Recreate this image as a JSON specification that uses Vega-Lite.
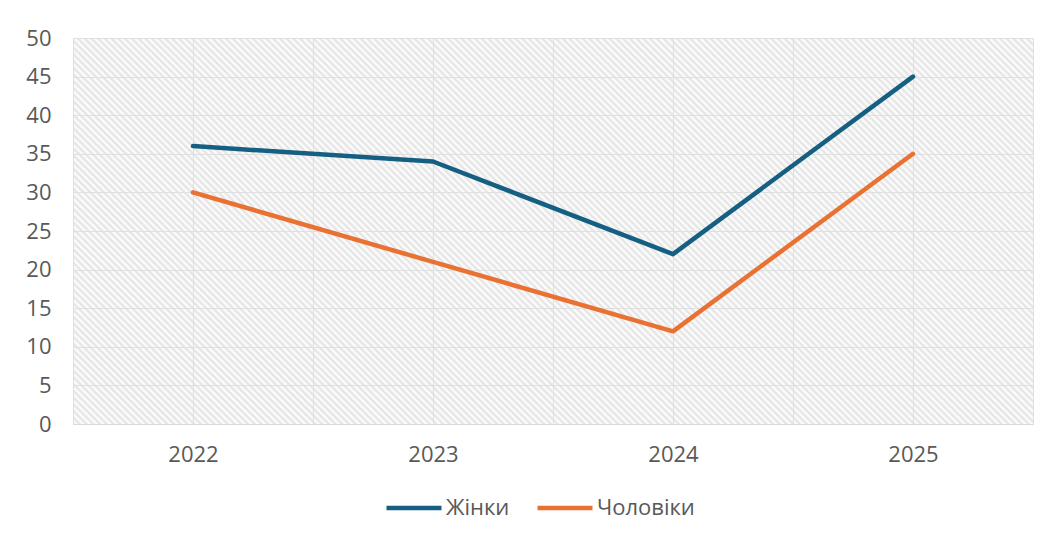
{
  "$schema": "https://vega.github.io/schema/vega-lite/v6.json",
  "width": 960,
  "height": 386,
  "autosize": {"type": "none"},
  "padding": {"left": 73, "top": 38, "right": 31, "bottom": 116},
  "background": "#ffffff",
  "view": {
    "stroke": null,
    "fill": {
      "gradient": "linear", "x1": 0, "y1": 1, "x2": 1.207, "y2": 0.5147,
      "stops": [
        {"offset":0,"color":"#e2e2e2"},{"offset":0.0025,"color":"#fff"},{"offset":0.005,"color":"#e2e2e2"},{"offset":0.0075,"color":"#fff"},
        {"offset":0.01,"color":"#e2e2e2"},{"offset":0.0125,"color":"#fff"},{"offset":0.015,"color":"#e2e2e2"},{"offset":0.0175,"color":"#fff"},
        {"offset":0.02,"color":"#e2e2e2"},{"offset":0.0225,"color":"#fff"},{"offset":0.025,"color":"#e2e2e2"},{"offset":0.0275,"color":"#fff"},
        {"offset":0.03,"color":"#e2e2e2"},{"offset":0.0325,"color":"#fff"},{"offset":0.035,"color":"#e2e2e2"},{"offset":0.0375,"color":"#fff"},
        {"offset":0.04,"color":"#e2e2e2"},{"offset":0.0425,"color":"#fff"},{"offset":0.045,"color":"#e2e2e2"},{"offset":0.0475,"color":"#fff"},
        {"offset":0.05,"color":"#e2e2e2"},{"offset":0.0525,"color":"#fff"},{"offset":0.055,"color":"#e2e2e2"},{"offset":0.0575,"color":"#fff"},
        {"offset":0.06,"color":"#e2e2e2"},{"offset":0.0625,"color":"#fff"},{"offset":0.065,"color":"#e2e2e2"},{"offset":0.0675,"color":"#fff"},
        {"offset":0.07,"color":"#e2e2e2"},{"offset":0.0725,"color":"#fff"},{"offset":0.075,"color":"#e2e2e2"},{"offset":0.0775,"color":"#fff"},
        {"offset":0.08,"color":"#e2e2e2"},{"offset":0.0825,"color":"#fff"},{"offset":0.085,"color":"#e2e2e2"},{"offset":0.0875,"color":"#fff"},
        {"offset":0.09,"color":"#e2e2e2"},{"offset":0.0925,"color":"#fff"},{"offset":0.095,"color":"#e2e2e2"},{"offset":0.0975,"color":"#fff"},
        {"offset":0.1,"color":"#e2e2e2"},{"offset":0.1025,"color":"#fff"},{"offset":0.105,"color":"#e2e2e2"},{"offset":0.1075,"color":"#fff"},
        {"offset":0.11,"color":"#e2e2e2"},{"offset":0.1125,"color":"#fff"},{"offset":0.115,"color":"#e2e2e2"},{"offset":0.1175,"color":"#fff"},
        {"offset":0.12,"color":"#e2e2e2"},{"offset":0.1225,"color":"#fff"},{"offset":0.125,"color":"#e2e2e2"},{"offset":0.1275,"color":"#fff"},
        {"offset":0.13,"color":"#e2e2e2"},{"offset":0.1325,"color":"#fff"},{"offset":0.135,"color":"#e2e2e2"},{"offset":0.1375,"color":"#fff"},
        {"offset":0.14,"color":"#e2e2e2"},{"offset":0.1425,"color":"#fff"},{"offset":0.145,"color":"#e2e2e2"},{"offset":0.1475,"color":"#fff"},
        {"offset":0.15,"color":"#e2e2e2"},{"offset":0.1525,"color":"#fff"},{"offset":0.155,"color":"#e2e2e2"},{"offset":0.1575,"color":"#fff"},
        {"offset":0.16,"color":"#e2e2e2"},{"offset":0.1625,"color":"#fff"},{"offset":0.165,"color":"#e2e2e2"},{"offset":0.1675,"color":"#fff"},
        {"offset":0.17,"color":"#e2e2e2"},{"offset":0.1725,"color":"#fff"},{"offset":0.175,"color":"#e2e2e2"},{"offset":0.1775,"color":"#fff"},
        {"offset":0.18,"color":"#e2e2e2"},{"offset":0.1825,"color":"#fff"},{"offset":0.185,"color":"#e2e2e2"},{"offset":0.1875,"color":"#fff"},
        {"offset":0.19,"color":"#e2e2e2"},{"offset":0.1925,"color":"#fff"},{"offset":0.195,"color":"#e2e2e2"},{"offset":0.1975,"color":"#fff"},
        {"offset":0.2,"color":"#e2e2e2"},{"offset":0.2025,"color":"#fff"},{"offset":0.205,"color":"#e2e2e2"},{"offset":0.2075,"color":"#fff"},
        {"offset":0.21,"color":"#e2e2e2"},{"offset":0.2125,"color":"#fff"},{"offset":0.215,"color":"#e2e2e2"},{"offset":0.2175,"color":"#fff"},
        {"offset":0.22,"color":"#e2e2e2"},{"offset":0.2225,"color":"#fff"},{"offset":0.225,"color":"#e2e2e2"},{"offset":0.2275,"color":"#fff"},
        {"offset":0.23,"color":"#e2e2e2"},{"offset":0.2325,"color":"#fff"},{"offset":0.235,"color":"#e2e2e2"},{"offset":0.2375,"color":"#fff"},
        {"offset":0.24,"color":"#e2e2e2"},{"offset":0.2425,"color":"#fff"},{"offset":0.245,"color":"#e2e2e2"},{"offset":0.2475,"color":"#fff"},
        {"offset":0.25,"color":"#e2e2e2"},{"offset":0.2525,"color":"#fff"},{"offset":0.255,"color":"#e2e2e2"},{"offset":0.2575,"color":"#fff"},
        {"offset":0.26,"color":"#e2e2e2"},{"offset":0.2625,"color":"#fff"},{"offset":0.265,"color":"#e2e2e2"},{"offset":0.2675,"color":"#fff"},
        {"offset":0.27,"color":"#e2e2e2"},{"offset":0.2725,"color":"#fff"},{"offset":0.275,"color":"#e2e2e2"},{"offset":0.2775,"color":"#fff"},
        {"offset":0.28,"color":"#e2e2e2"},{"offset":0.2825,"color":"#fff"},{"offset":0.285,"color":"#e2e2e2"},{"offset":0.2875,"color":"#fff"},
        {"offset":0.29,"color":"#e2e2e2"},{"offset":0.2925,"color":"#fff"},{"offset":0.295,"color":"#e2e2e2"},{"offset":0.2975,"color":"#fff"},
        {"offset":0.3,"color":"#e2e2e2"},{"offset":0.3025,"color":"#fff"},{"offset":0.305,"color":"#e2e2e2"},{"offset":0.3075,"color":"#fff"},
        {"offset":0.31,"color":"#e2e2e2"},{"offset":0.3125,"color":"#fff"},{"offset":0.315,"color":"#e2e2e2"},{"offset":0.3175,"color":"#fff"},
        {"offset":0.32,"color":"#e2e2e2"},{"offset":0.3225,"color":"#fff"},{"offset":0.325,"color":"#e2e2e2"},{"offset":0.3275,"color":"#fff"},
        {"offset":0.33,"color":"#e2e2e2"},{"offset":0.3325,"color":"#fff"},{"offset":0.335,"color":"#e2e2e2"},{"offset":0.3375,"color":"#fff"},
        {"offset":0.34,"color":"#e2e2e2"},{"offset":0.3425,"color":"#fff"},{"offset":0.345,"color":"#e2e2e2"},{"offset":0.3475,"color":"#fff"},
        {"offset":0.35,"color":"#e2e2e2"},{"offset":0.3525,"color":"#fff"},{"offset":0.355,"color":"#e2e2e2"},{"offset":0.3575,"color":"#fff"},
        {"offset":0.36,"color":"#e2e2e2"},{"offset":0.3625,"color":"#fff"},{"offset":0.365,"color":"#e2e2e2"},{"offset":0.3675,"color":"#fff"},
        {"offset":0.37,"color":"#e2e2e2"},{"offset":0.3725,"color":"#fff"},{"offset":0.375,"color":"#e2e2e2"},{"offset":0.3775,"color":"#fff"},
        {"offset":0.38,"color":"#e2e2e2"},{"offset":0.3825,"color":"#fff"},{"offset":0.385,"color":"#e2e2e2"},{"offset":0.3875,"color":"#fff"},
        {"offset":0.39,"color":"#e2e2e2"},{"offset":0.3925,"color":"#fff"},{"offset":0.395,"color":"#e2e2e2"},{"offset":0.3975,"color":"#fff"},
        {"offset":0.4,"color":"#e2e2e2"},{"offset":0.4025,"color":"#fff"},{"offset":0.405,"color":"#e2e2e2"},{"offset":0.4075,"color":"#fff"},
        {"offset":0.41,"color":"#e2e2e2"},{"offset":0.4125,"color":"#fff"},{"offset":0.415,"color":"#e2e2e2"},{"offset":0.4175,"color":"#fff"},
        {"offset":0.42,"color":"#e2e2e2"},{"offset":0.4225,"color":"#fff"},{"offset":0.425,"color":"#e2e2e2"},{"offset":0.4275,"color":"#fff"},
        {"offset":0.43,"color":"#e2e2e2"},{"offset":0.4325,"color":"#fff"},{"offset":0.435,"color":"#e2e2e2"},{"offset":0.4375,"color":"#fff"},
        {"offset":0.44,"color":"#e2e2e2"},{"offset":0.4425,"color":"#fff"},{"offset":0.445,"color":"#e2e2e2"},{"offset":0.4475,"color":"#fff"},
        {"offset":0.45,"color":"#e2e2e2"},{"offset":0.4525,"color":"#fff"},{"offset":0.455,"color":"#e2e2e2"},{"offset":0.4575,"color":"#fff"},
        {"offset":0.46,"color":"#e2e2e2"},{"offset":0.4625,"color":"#fff"},{"offset":0.465,"color":"#e2e2e2"},{"offset":0.4675,"color":"#fff"},
        {"offset":0.47,"color":"#e2e2e2"},{"offset":0.4725,"color":"#fff"},{"offset":0.475,"color":"#e2e2e2"},{"offset":0.4775,"color":"#fff"},
        {"offset":0.48,"color":"#e2e2e2"},{"offset":0.4825,"color":"#fff"},{"offset":0.485,"color":"#e2e2e2"},{"offset":0.4875,"color":"#fff"},
        {"offset":0.49,"color":"#e2e2e2"},{"offset":0.4925,"color":"#fff"},{"offset":0.495,"color":"#e2e2e2"},{"offset":0.4975,"color":"#fff"},
        {"offset":0.5,"color":"#e2e2e2"},{"offset":0.5025,"color":"#fff"},{"offset":0.505,"color":"#e2e2e2"},{"offset":0.5075,"color":"#fff"},
        {"offset":0.51,"color":"#e2e2e2"},{"offset":0.5125,"color":"#fff"},{"offset":0.515,"color":"#e2e2e2"},{"offset":0.5175,"color":"#fff"},
        {"offset":0.52,"color":"#e2e2e2"},{"offset":0.5225,"color":"#fff"},{"offset":0.525,"color":"#e2e2e2"},{"offset":0.5275,"color":"#fff"},
        {"offset":0.53,"color":"#e2e2e2"},{"offset":0.5325,"color":"#fff"},{"offset":0.535,"color":"#e2e2e2"},{"offset":0.5375,"color":"#fff"},
        {"offset":0.54,"color":"#e2e2e2"},{"offset":0.5425,"color":"#fff"},{"offset":0.545,"color":"#e2e2e2"},{"offset":0.5475,"color":"#fff"},
        {"offset":0.55,"color":"#e2e2e2"},{"offset":0.5525,"color":"#fff"},{"offset":0.555,"color":"#e2e2e2"},{"offset":0.5575,"color":"#fff"},
        {"offset":0.56,"color":"#e2e2e2"},{"offset":0.5625,"color":"#fff"},{"offset":0.565,"color":"#e2e2e2"},{"offset":0.5675,"color":"#fff"},
        {"offset":0.57,"color":"#e2e2e2"},{"offset":0.5725,"color":"#fff"},{"offset":0.575,"color":"#e2e2e2"},{"offset":0.5775,"color":"#fff"},
        {"offset":0.58,"color":"#e2e2e2"},{"offset":0.5825,"color":"#fff"},{"offset":0.585,"color":"#e2e2e2"},{"offset":0.5875,"color":"#fff"},
        {"offset":0.59,"color":"#e2e2e2"},{"offset":0.5925,"color":"#fff"},{"offset":0.595,"color":"#e2e2e2"},{"offset":0.5975,"color":"#fff"},
        {"offset":0.6,"color":"#e2e2e2"},{"offset":0.6025,"color":"#fff"},{"offset":0.605,"color":"#e2e2e2"},{"offset":0.6075,"color":"#fff"},
        {"offset":0.61,"color":"#e2e2e2"},{"offset":0.6125,"color":"#fff"},{"offset":0.615,"color":"#e2e2e2"},{"offset":0.6175,"color":"#fff"},
        {"offset":0.62,"color":"#e2e2e2"},{"offset":0.6225,"color":"#fff"},{"offset":0.625,"color":"#e2e2e2"},{"offset":0.6275,"color":"#fff"},
        {"offset":0.63,"color":"#e2e2e2"},{"offset":0.6325,"color":"#fff"},{"offset":0.635,"color":"#e2e2e2"},{"offset":0.6375,"color":"#fff"},
        {"offset":0.64,"color":"#e2e2e2"},{"offset":0.6425,"color":"#fff"},{"offset":0.645,"color":"#e2e2e2"},{"offset":0.6475,"color":"#fff"},
        {"offset":0.65,"color":"#e2e2e2"},{"offset":0.6525,"color":"#fff"},{"offset":0.655,"color":"#e2e2e2"},{"offset":0.6575,"color":"#fff"},
        {"offset":0.66,"color":"#e2e2e2"},{"offset":0.6625,"color":"#fff"},{"offset":0.665,"color":"#e2e2e2"},{"offset":0.6675,"color":"#fff"},
        {"offset":0.67,"color":"#e2e2e2"},{"offset":0.6725,"color":"#fff"},{"offset":0.675,"color":"#e2e2e2"},{"offset":0.6775,"color":"#fff"},
        {"offset":0.68,"color":"#e2e2e2"},{"offset":0.6825,"color":"#fff"},{"offset":0.685,"color":"#e2e2e2"},{"offset":0.6875,"color":"#fff"},
        {"offset":0.69,"color":"#e2e2e2"},{"offset":0.6925,"color":"#fff"},{"offset":0.695,"color":"#e2e2e2"},{"offset":0.6975,"color":"#fff"},
        {"offset":0.7,"color":"#e2e2e2"},{"offset":0.7025,"color":"#fff"},{"offset":0.705,"color":"#e2e2e2"},{"offset":0.7075,"color":"#fff"},
        {"offset":0.71,"color":"#e2e2e2"},{"offset":0.7125,"color":"#fff"},{"offset":0.715,"color":"#e2e2e2"},{"offset":0.7175,"color":"#fff"},
        {"offset":0.72,"color":"#e2e2e2"},{"offset":0.7225,"color":"#fff"},{"offset":0.725,"color":"#e2e2e2"},{"offset":0.7275,"color":"#fff"},
        {"offset":0.73,"color":"#e2e2e2"},{"offset":0.7325,"color":"#fff"},{"offset":0.735,"color":"#e2e2e2"},{"offset":0.7375,"color":"#fff"},
        {"offset":0.74,"color":"#e2e2e2"},{"offset":0.7425,"color":"#fff"},{"offset":0.745,"color":"#e2e2e2"},{"offset":0.7475,"color":"#fff"},
        {"offset":0.75,"color":"#e2e2e2"},{"offset":0.7525,"color":"#fff"},{"offset":0.755,"color":"#e2e2e2"},{"offset":0.7575,"color":"#fff"},
        {"offset":0.76,"color":"#e2e2e2"},{"offset":0.7625,"color":"#fff"},{"offset":0.765,"color":"#e2e2e2"},{"offset":0.7675,"color":"#fff"},
        {"offset":0.77,"color":"#e2e2e2"},{"offset":0.7725,"color":"#fff"},{"offset":0.775,"color":"#e2e2e2"},{"offset":0.7775,"color":"#fff"},
        {"offset":0.78,"color":"#e2e2e2"},{"offset":0.7825,"color":"#fff"},{"offset":0.785,"color":"#e2e2e2"},{"offset":0.7875,"color":"#fff"},
        {"offset":0.79,"color":"#e2e2e2"},{"offset":0.7925,"color":"#fff"},{"offset":0.795,"color":"#e2e2e2"},{"offset":0.7975,"color":"#fff"},
        {"offset":0.8,"color":"#e2e2e2"},{"offset":0.8025,"color":"#fff"},{"offset":0.805,"color":"#e2e2e2"},{"offset":0.8075,"color":"#fff"},
        {"offset":0.81,"color":"#e2e2e2"},{"offset":0.8125,"color":"#fff"},{"offset":0.815,"color":"#e2e2e2"},{"offset":0.8175,"color":"#fff"},
        {"offset":0.82,"color":"#e2e2e2"},{"offset":0.8225,"color":"#fff"},{"offset":0.825,"color":"#e2e2e2"},{"offset":0.8275,"color":"#fff"},
        {"offset":0.83,"color":"#e2e2e2"},{"offset":0.8325,"color":"#fff"},{"offset":0.835,"color":"#e2e2e2"},{"offset":0.8375,"color":"#fff"},
        {"offset":0.84,"color":"#e2e2e2"},{"offset":0.8425,"color":"#fff"},{"offset":0.845,"color":"#e2e2e2"},{"offset":0.8475,"color":"#fff"},
        {"offset":0.85,"color":"#e2e2e2"},{"offset":0.8525,"color":"#fff"},{"offset":0.855,"color":"#e2e2e2"},{"offset":0.8575,"color":"#fff"},
        {"offset":0.86,"color":"#e2e2e2"},{"offset":0.8625,"color":"#fff"},{"offset":0.865,"color":"#e2e2e2"},{"offset":0.8675,"color":"#fff"},
        {"offset":0.87,"color":"#e2e2e2"},{"offset":0.8725,"color":"#fff"},{"offset":0.875,"color":"#e2e2e2"},{"offset":0.8775,"color":"#fff"},
        {"offset":0.88,"color":"#e2e2e2"},{"offset":0.8825,"color":"#fff"},{"offset":0.885,"color":"#e2e2e2"},{"offset":0.8875,"color":"#fff"},
        {"offset":0.89,"color":"#e2e2e2"},{"offset":0.8925,"color":"#fff"},{"offset":0.895,"color":"#e2e2e2"},{"offset":0.8975,"color":"#fff"},
        {"offset":0.9,"color":"#e2e2e2"},{"offset":0.9025,"color":"#fff"},{"offset":0.905,"color":"#e2e2e2"},{"offset":0.9075,"color":"#fff"},
        {"offset":0.91,"color":"#e2e2e2"},{"offset":0.9125,"color":"#fff"},{"offset":0.915,"color":"#e2e2e2"},{"offset":0.9175,"color":"#fff"},
        {"offset":0.92,"color":"#e2e2e2"},{"offset":0.9225,"color":"#fff"},{"offset":0.925,"color":"#e2e2e2"},{"offset":0.9275,"color":"#fff"},
        {"offset":0.93,"color":"#e2e2e2"},{"offset":0.9325,"color":"#fff"},{"offset":0.935,"color":"#e2e2e2"},{"offset":0.9375,"color":"#fff"},
        {"offset":0.94,"color":"#e2e2e2"},{"offset":0.9425,"color":"#fff"},{"offset":0.945,"color":"#e2e2e2"},{"offset":0.9475,"color":"#fff"},
        {"offset":0.95,"color":"#e2e2e2"},{"offset":0.9525,"color":"#fff"},{"offset":0.955,"color":"#e2e2e2"},{"offset":0.9575,"color":"#fff"},
        {"offset":0.96,"color":"#e2e2e2"},{"offset":0.9625,"color":"#fff"},{"offset":0.965,"color":"#e2e2e2"},{"offset":0.9675,"color":"#fff"},
        {"offset":0.97,"color":"#e2e2e2"},{"offset":0.9725,"color":"#fff"},{"offset":0.975,"color":"#e2e2e2"},{"offset":0.9775,"color":"#fff"},
        {"offset":0.98,"color":"#e2e2e2"},{"offset":0.9825,"color":"#fff"},{"offset":0.985,"color":"#e2e2e2"},{"offset":0.9875,"color":"#fff"},
        {"offset":0.99,"color":"#e2e2e2"},{"offset":0.9925,"color":"#fff"},{"offset":0.995,"color":"#e2e2e2"},{"offset":0.9975,"color":"#fff"},
        {"offset":1,"color":"#e2e2e2"}
      ]
    }
  },
  "config": {
    "font": "Open Sans"
  },
  "data": {
    "values": [
      {"year": 2022, "series": "Жінки", "value": 36},
      {"year": 2023, "series": "Жінки", "value": 34},
      {"year": 2024, "series": "Жінки", "value": 22},
      {"year": 2025, "series": "Жінки", "value": 45},
      {"year": 2022, "series": "Чоловіки", "value": 30},
      {"year": 2023, "series": "Чоловіки", "value": 21},
      {"year": 2024, "series": "Чоловіки", "value": 12},
      {"year": 2025, "series": "Чоловіки", "value": 35}
    ]
  },
  "mark": {"type": "line", "strokeWidth": 4.5, "strokeCap": "round", "strokeJoin": "round"},
  "encoding": {
    "x": {
      "field": "year",
      "type": "quantitative",
      "scale": {"domain": [2021.5, 2025.5], "nice": false, "zero": false},
      "axis": {
        "title": null,
        "values": [2021.5, 2022, 2022.5, 2023, 2023.5, 2024, 2024.5, 2025, 2025.5],
        "labelExpr": "datum.value % 1 === 0 ? toString(datum.value) : ''",
        "labelOverlap": false,
        "labelBound": false,
        "labelFlush": false,
        "grid": true,
        "gridColor": "#e0e0e0",
        "gridWidth": 1,
        "ticks": false,
        "tickSize": 0,
        "domain": true,
        "domainColor": "#d9d9d9",
        "labelFontSize": 22,
        "labelColor": "#595959",
        "labelPadding": 20
      }
    },
    "y": {
      "field": "value",
      "type": "quantitative",
      "scale": {"domain": [0, 50], "nice": false},
      "axis": {
        "title": null,
        "values": [0, 5, 10, 15, 20, 25, 30, 35, 40, 45, 50],
        "grid": true,
        "gridColor": "#e0e0e0",
        "gridWidth": 1,
        "ticks": false,
        "tickSize": 0,
        "domain": false,
        "labelFontSize": 22,
        "labelColor": "#595959",
        "labelPadding": 22,
        "labelOverlap": false,
        "labelBound": false,
        "labelFlush": false
      }
    },
    "color": {
      "field": "series",
      "type": "nominal",
      "scale": {"domain": ["Жінки", "Чоловіки"], "range": ["#156082", "#E97132"]},
      "legend": {
        "title": null,
        "orient": "none",
        "legendX": 311,
        "legendY": 440,
        "direction": "horizontal",
        "symbolType": "stroke",
        "symbolSize": 3025,
        "symbolStrokeWidth": 4.5,
        "labelFontSize": 22,
        "labelColor": "#595959",
        "labelOffset": 2,
        "columnPadding": 18
      }
    }
  }
}
